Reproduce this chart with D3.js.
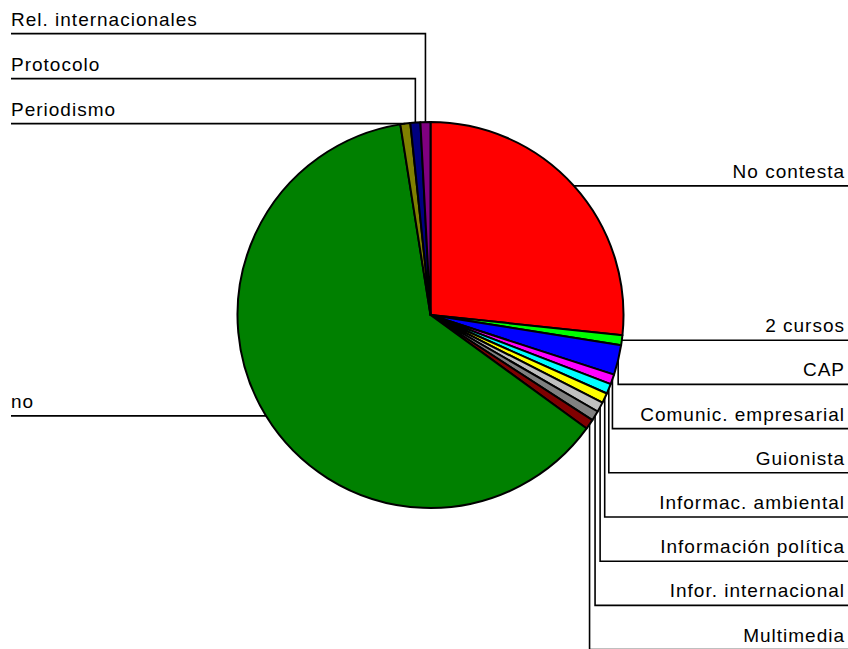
<!DOCTYPE html>
<html>
<head>
<meta charset="utf-8">
<script src="https://cdn.jsdelivr.net/npm/d3@7"></script>
<style>
html,body{margin:0;padding:0;background:#fff;}
svg{display:block;}
text{font-family:"Liberation Sans",Arial,sans-serif;}
</style>
</head>
<body>
<svg id="chart" width="848" height="649"></svg>
<script>
const categories = ["No contesta","2 cursos","CAP","Comunic. empresarial","Guionista","Informac. ambiental","Información política","Infor. internacional","Multimedia","no","Periodismo","Protocolo","Rel. internacionales"];
const values = [32,1,3,1,1,1,1,1,1,75,1,1,1];
const colors = ["#FF0000","#00FF00","#0000FF","#FF00FF","#00FFFF","#FFFF00","#C0C0C0","#808080","#800000","#008000","#808000","#000080","#800080"];

const W = 848, H = 649;
const cx = 430.5, cy = 315, R = 193;
const svg = d3.select("#chart");
const g = svg.append("g").attr("transform", `translate(${cx},${cy})`);

const data = categories.map((c,i)=>({name:c, value:values[i], color:colors[i]}));
const pie = d3.pie().value(d=>d.value).sort(null);
const arcs = pie(data);
const arc = d3.arc().innerRadius(0).outerRadius(R);

g.selectAll("path.slice").data(arcs).enter().append("path")
  .attr("d", arc)
  .attr("fill", d=>d.data.color)
  .attr("stroke", "#000")
  .attr("stroke-width", 2)
  .attr("stroke-linejoin","round");

// label layout
function edgePoint(a){
  const m = (a.startAngle + a.endAngle)/2;
  return [cx + R*Math.sin(m), cy - R*Math.cos(m)];
}
const rightSpacing = 44.2, leftSpacing = 45;
const lines = [];
let ry = null;
arcs.forEach((a,i)=>{
  const [px,py] = edgePoint(a);
  const mid = (a.startAngle+a.endAngle)/2;
  const onRight = mid < Math.PI;
  if (i === 0) {
    lines.push({name:a.data.name, pts:[[px,py],[W,py]], ly:py, side:"right"});
  } else if (onRight) {
    if (ry === null) { ry = py; lines.push({name:a.data.name, pts:[[px,py],[W,py]], ly:py, side:"right"}); }
    else { ry += rightSpacing; lines.push({name:a.data.name, pts:[[px,py],[px,ry],[W,ry]], ly:ry, side:"right"}); }
  }
});
let ly0 = null;
arcs.forEach((a,i)=>{
  const [px,py] = edgePoint(a);
  const mid = (a.startAngle+a.endAngle)/2;
  if (mid >= Math.PI) {
    if (a.data.name === "no") {
      lines.push({name:a.data.name, pts:[[px,py],[11,py]], ly:py, side:"left"});
    } else {
      if (ly0 === null) { ly0 = py; lines.push({name:a.data.name, pts:[[px,py],[11,py]], ly:py, side:"left"}); }
      else { ly0 -= leftSpacing; lines.push({name:a.data.name, pts:[[px,py],[px,ly0],[11,ly0]], ly:ly0, side:"left"}); }
    }
  }
});

const lineGen = d3.line();
svg.selectAll("path.leader").data(lines).enter().append("path")
  .attr("class","leader")
  .attr("d", d=>lineGen(d.pts))
  .attr("fill","none")
  .attr("stroke","#000")
  .attr("stroke-width",1.6);

svg.selectAll("text.lbl").data(lines).enter().append("text")
  .attr("class","lbl")
  .attr("x", d=> d.side==="right" ? 845 : 11)
  .attr("y", d=> d.ly - 8)
  .attr("text-anchor", d=> d.side==="right" ? "end" : "start")
  .attr("font-size", 19)
  .attr("letter-spacing", 1.0)
  .attr("fill","#000")
  .text(d=>d.name);
</script>
</body>
</html>
